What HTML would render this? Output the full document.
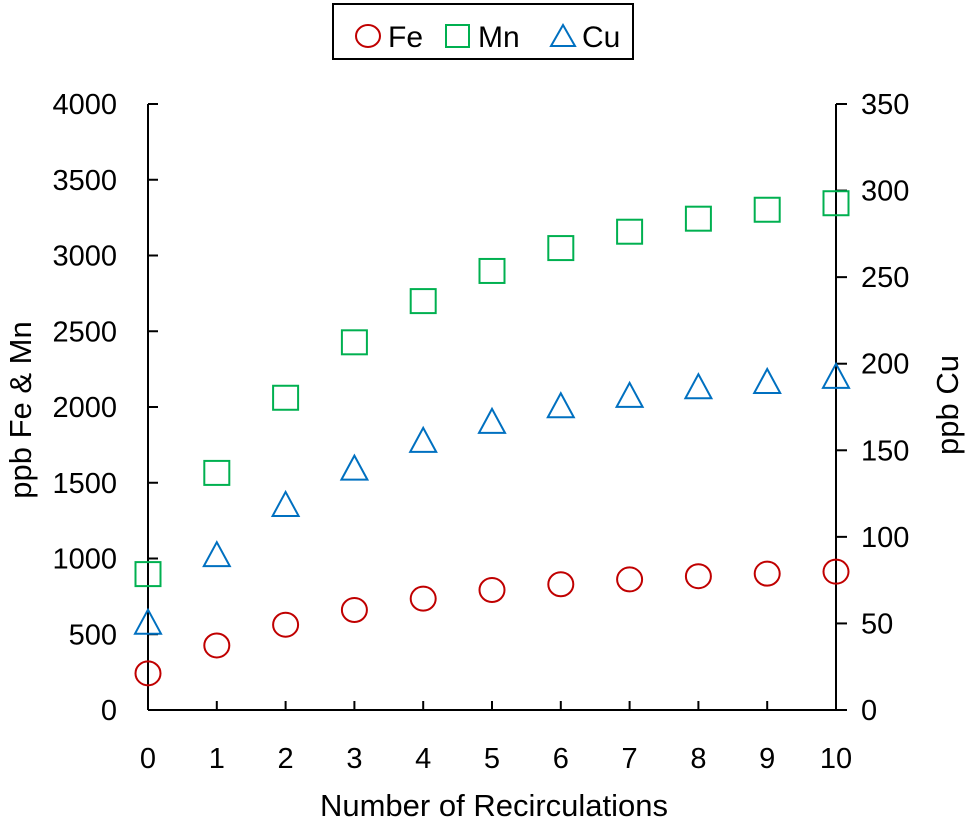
<!DOCTYPE html>
<html><head><meta charset="utf-8"><style>
body{margin:0;background:#fff;}
svg text{font-family:"Liberation Sans",sans-serif;fill:#000;}
</style></head><body>
<svg id="chart" width="974" height="823" viewBox="0 0 974 823" xmlns="http://www.w3.org/2000/svg">
<rect x="333" y="4" width="300" height="55" fill="#fff" stroke="#000" stroke-width="2"/>
<g><ellipse cx="368" cy="36" rx="12" ry="11" fill="none" stroke="#c00000" stroke-width="2"/><text x="388" y="47" font-size="30">Fe</text></g>
<g><rect x="446" y="25" width="23" height="22" fill="none" stroke="#00b050" stroke-width="2"/><text x="478" y="47" font-size="30">Mn</text></g>
<g><polygon points="563,25 575,46 551,46" fill="none" stroke="#0070c0" stroke-width="2"/><text x="582" y="47" font-size="30">Cu</text></g>
<g id="axes"></g>
<g id="marks"></g>
<text x="494" y="816" font-size="31" text-anchor="middle">Number of Recirculations</text>
<text transform="translate(31,410) rotate(-90)" font-size="31" text-anchor="middle">ppb Fe &amp; Mn</text>
<text transform="translate(958,405) rotate(-90)" font-size="31" text-anchor="middle">ppb Cu</text>
</svg>
<script>
const categories=[0,1,2,3,4,5,6,7,8,9,10];
const feValues=[242,426,563,660,735,792,830,862,883,900,913];
const mnValues=[897,1565,2061,2427,2699,2898,3049,3157,3243,3302,3345];
const cuValues=[51,90,119,140,156,167,176,182,187,190,193];
const leftTicks=[0,500,1000,1500,2000,2500,3000,3500,4000];
const rightTicks=[0,50,100,150,200,250,300,350];
const NS="http://www.w3.org/2000/svg";
const L=148,R=836,T=104,B=710;
const xs=v=>L+(v-0)/(10-0)*(R-L);
const yl=v=>B-v/4000*(B-T);
const yr=v=>B-v/350*(B-T);
function mk(tag,attrs,parent){const e=document.createElementNS(NS,tag);for(const k in attrs)e.setAttribute(k,attrs[k]);parent.appendChild(e);return e;}
const ax=document.getElementById('axes'),mg=document.getElementById('marks');
let e;
e=mk('line',{x1:L,y1:T,x2:L,y2:B,stroke:'#000','stroke-width':2},ax);


e=mk('line',{x1:R,y1:T,x2:R,y2:B,stroke:'#000','stroke-width':2},ax);


e=mk('line',{x1:L,y1:B,x2:R+1,y2:B,stroke:'#000','stroke-width':2},ax);


leftTicks.forEach(v=>{
 mk('line',{x1:L,y1:yl(v),x2:L+10,y2:yl(v),stroke:'#000','stroke-width':2},ax);
 e=mk('text',{x:117,y:yl(v)+10,'font-size':29,'text-anchor':'end'},ax);e.textContent=v;
 
 
});
rightTicks.forEach(v=>{
 mk('line',{x1:R,y1:yr(v),x2:R+11,y2:yr(v),stroke:'#000','stroke-width':2},ax);
 e=mk('text',{x:861,y:yr(v)+10,'font-size':29},ax);e.textContent=v;
 
 
});
categories.forEach(c=>{
 mk('line',{x1:xs(c),y1:B,x2:xs(c),y2:B-9,stroke:'#000','stroke-width':2},ax);
 e=mk('text',{x:xs(c),y:768,'font-size':29,'text-anchor':'middle'},ax);e.textContent=c;
 
 
});
categories.forEach((c,i)=>{
 const x=xs(c);
 e=mk('ellipse',{cx:x,cy:yl(feValues[i]),rx:12.5,ry:12,fill:'none',stroke:'#c00000','stroke-width':2},mg);
 
 
 const ym=yl(mnValues[i]);
 e=mk('rect',{x:x-12.5,y:ym-12,width:25,height:24,fill:'none',stroke:'#00b050','stroke-width':2},mg);
 
 
 const yc=yr(cuValues[i]);
 e=mk('polygon',{points:`${x},${yc-12} ${x+13},${yc+12} ${x-13},${yc+12}`,fill:'none',stroke:'#0070c0','stroke-width':2},mg);
 
 
});
</script>
</body></html>
